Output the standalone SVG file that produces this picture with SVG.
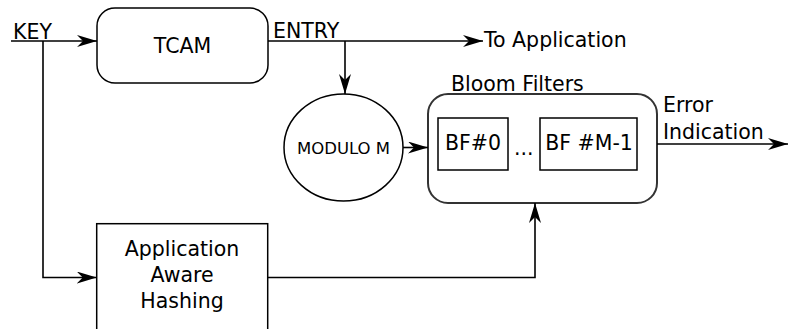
<svg xmlns="http://www.w3.org/2000/svg" width="789" height="329" viewBox="0 0 789 329">
<style>
text{font-family:"DejaVu Sans",sans-serif;font-size:20.5px;fill:#000}
.c{text-anchor:middle}
.box{fill:#fff;stroke:#000;stroke-width:1.5}
.bloom{fill:#fff;stroke:#333;stroke-width:2}
.conn path{fill:none;stroke:#000;stroke-width:1.6;marker-end:url(#arr)}
</style>
<defs>
<marker id="arr" markerUnits="userSpaceOnUse" viewBox="0 0 20 12" refX="20" refY="6" markerWidth="20" markerHeight="12" orient="auto">
<path d="M0,0 L20,6 L0,12 L6,6 Z" fill="#000"/>
</marker>
</defs>
<rect width="789" height="329" fill="#fff"/>
<g id="tcam">
<rect class="box" x="97" y="8" width="171" height="75" rx="18"/>
<text class="c" x="182.5" y="52.5">TCAM</text>
</g>
<g id="modulo">
<ellipse class="box" cx="343.5" cy="147.5" rx="59.5" ry="53.5"/>
<text class="c" x="343.5" y="153.5" style="font-size:16.5px">MODULO M</text>
</g>
<g id="bloom">
<rect class="bloom" x="428" y="94" width="229" height="109" rx="20"/>
<text x="451" y="90.5">Bloom Filters</text>
</g>
<g id="bf0">
<rect class="box" x="438" y="118" width="70" height="52"/>
<text class="c" x="473" y="150">BF#0</text>
</g>
<g id="dots">
<text x="514" y="155">...</text>
</g>
<g id="bfm1">
<rect class="box" x="540" y="118" width="97" height="52"/>
<text class="c" x="589" y="150">BF #M-1</text>
</g>
<g id="hashing">
<rect class="box" x="96.7" y="223.7" width="171" height="120"/>
<text class="c" x="182" y="256">Application</text>
<text class="c" x="182" y="282">Aware</text>
<text class="c" x="182" y="308">Hashing</text>
</g>
<g id="labels">
<text x="13" y="39">KEY</text>
<text x="273" y="38">ENTRY</text>
<text x="484" y="47">To Application</text>
<text x="663" y="112">Error</text>
<text x="663" y="139">Indication</text>
</g>
<g class="conn" id="connectors">
<path d="M11,41 H97"/>
<path d="M43,41 V277.5 H96.7"/>
<path d="M268,41 H483"/>
<path d="M345,41 V94"/>
<path d="M403,147.5 H428"/>
<path d="M657,144 H788"/>
<path d="M267.7,277.5 H535 V203"/>
</g>
</svg>
